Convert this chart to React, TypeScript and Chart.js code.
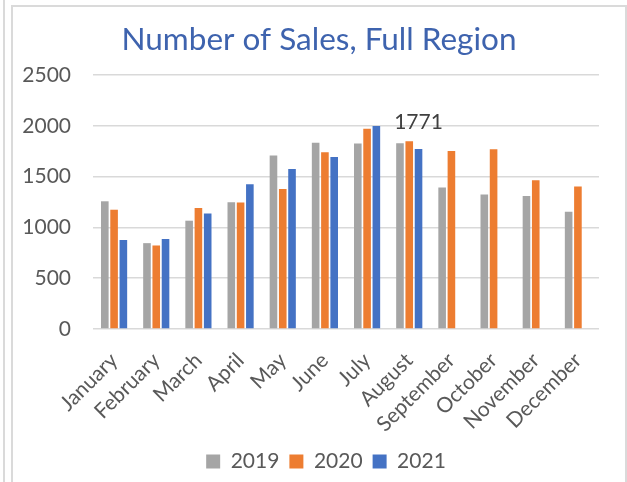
import React, { useEffect, useRef } from "react";
import { Chart, registerables } from "chart.js";

Chart.register(...registerables);

const chartTitle = "Number of Sales, Full Region";
const months = [
  "January", "February", "March", "April", "May", "June",
  "July", "August", "September", "October", "November", "December",
];
const seriesNames = ["2019", "2020", "2021"];
const sales2019 = [1257, 845, 1066, 1247, 1708, 1832, 1826, 1829, 1392, 1323, 1309, 1155];
const sales2020 = [1174, 822, 1191, 1244, 1378, 1740, 1970, 1849, 1753, 1770, 1464, 1402];
const sales2021 = [875, 885, 1138, 1424, 1576, 1694, 1997, 1771, null, null, null, null];
const yTickValues = [0, 500, 1000, 1500, 2000, 2500];
const labelledPoint = { dataset: 2, index: 7 };

const FONT = "Lato, 'Open Sans', sans-serif";
const TEXT = "#595959";

const titlePlugin = {
  id: "centeredTitle",
  afterDraw(chart: any) {
    const ctx = chart.ctx;
    ctx.save();
    ctx.font = `31.5px ${FONT}`;
    ctx.fillStyle = "#3E63AE";
    ctx.textAlign = "center";
    ctx.textBaseline = "middle";
    ctx.fillText(chartTitle, chart.width / 2, 40);
    ctx.restore();
  },
};

const pointLabelPlugin = {
  id: "pointLabel",
  afterDatasetsDraw(chart: any) {
    const meta = chart.getDatasetMeta(labelledPoint.dataset);
    const el = meta.data[labelledPoint.index];
    const v = chart.data.datasets[labelledPoint.dataset].data[labelledPoint.index];
    if (!el || v == null) return;
    const ctx = chart.ctx;
    ctx.save();
    ctx.font = `21px ${FONT}`;
    ctx.fillStyle = "#404040";
    ctx.textAlign = "center";
    ctx.textBaseline = "bottom";
    ctx.fillText(String(v), el.x, el.y - 16);
    ctx.restore();
  },
};

export default function App() {
  const ref = useRef<HTMLCanvasElement | null>(null);

  useEffect(() => {
    if (!ref.current) return;
    const colors = ["#A5A5A5", "#ED7D31", "#4472C4"];
    const series = [sales2019, sales2020, sales2021];
    const chart = new Chart(ref.current, {
      type: "bar",
      data: {
        labels: months,
        datasets: series.map((d, i) => ({
          label: seriesNames[i],
          data: d,
          backgroundColor: colors[i],
          borderWidth: 0,
          categoryPercentage: 0.66,
          barPercentage: 0.82,
        })),
      },
      options: {
        animation: false,
        responsive: false,
        maintainAspectRatio: false,
        layout: { padding: { top: 75, left: 41, right: 27, bottom: 0 } },
        plugins: {
          title: { display: false },
          tooltip: { enabled: false },
          legend: {
            position: "bottom",
            labels: {
              boxWidth: 14,
              boxHeight: 14,
              padding: 10,
              color: TEXT,
              font: { family: FONT, size: 21 },
            },
          },
        },
        scales: {
          x: {
            grid: { display: false },
            border: { display: false },
            ticks: {
              color: TEXT,
              font: { family: FONT, size: 21 },
              maxRotation: 45,
              minRotation: 45,
              padding: 11,
              autoSkip: false,
            },
            afterFit(scale: any) {
              scale.height = 112;
            },
          },
          y: {
            min: 0,
            max: 2500,
            afterBuildTicks(scale: any) {
              scale.ticks = yTickValues.map((v) => ({ value: v }));
            },
            grid: { color: "#D9D9D9", lineWidth: 1.5, drawTicks: false },
            border: { display: false },
            ticks: {
              color: TEXT,
              font: { family: FONT, size: 21 },
              padding: 22,
              callback: (v: any) => String(v),
            },
            afterFit(scale: any) {
              scale.width = 40;
              scale._computeLabelArea = () => undefined;
            },
          },
        },
      },
      plugins: [titlePlugin, pointLabelPlugin],
    });
    return () => chart.destroy();
  }, []);

  return (
    <div style={{ position: "fixed", left: 0, top: 0, width: 627, height: 482, background: "#fff", overflow: "hidden" }}>
      <div style={{ position: "absolute", left: 3, top: 0, width: 2, height: 482, background: "#DADADA" }} />
      <div
        style={{
          position: "absolute",
          left: 11,
          top: 5,
          width: 616,
          height: 500,
          boxSizing: "border-box",
          borderLeft: "2px solid #DADADA",
          borderTop: "2px solid #DADADA",
          borderRight: "2px solid #DADADA",
        }}
      />
      <div style={{ position: "absolute", left: 12, top: 0, width: 614, height: 482 }}>
        <canvas ref={ref} width={614} height={482} style={{ width: 614, height: 482 }} />
      </div>
    </div>
  );
}
